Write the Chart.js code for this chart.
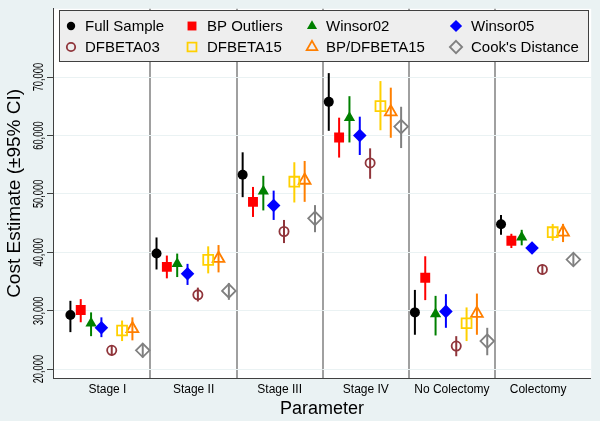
<!DOCTYPE html>
<html>
<head>
<meta charset="utf-8">
<script src="https://cdn.jsdelivr.net/npm/chart.js@4.4.0/dist/chart.umd.min.js"></script>
<style>
html,body{margin:0;padding:0;background:#eaf2f3;}
</style>
</head>
<body>
<canvas id="grafik" width="600" height="421"></canvas>
<script>
var kategoriler=["Stage I","Stage II","Stage III","Stage IV","No Colectomy","Colectomy"];
var seriAdlari=["Full Sample","BP Outliers","Winsor02","Winsor05","DFBETA03","DFBETA15","BP/DFBETA15","Cook's Distance"];
var yTikler=[20000,30000,40000,50000,60000,70000];

// tahmin, alt ve ust sinir (95% CI), kategori sirasiyla
var fullEst=[29270,39780,53270,65760,29710,44800];
var fullLo=[26330,37060,49440,60800,25880,43000];
var fullHi=[31690,42540,57120,70680,33560,46390];

var bpEst=[30120,37510,48640,59660,35640,41980];
var bpLo=[28020,35540,46050,56220,31810,40730];
var bpHi=[31980,39440,51190,63050,39320,43170];

var w02Est=[27850,38020,50450,63050,29430,42590];
var w02Lo=[25640,35760,47170,58810,25760,41190];
var w02Hi=[29710,39780,53100,66730,32540,43850];

var w05Est=[27070,36320,48020,60000,29880,40730];
var w05Lo=[25470,34410,45540,56660,27070,39880];
var w05Hi=[28860,38020,50560,63220,32830,41580];

var df03Est=[23220,32710,43560,55310,23950,37060];
var df03Lo=[22250,31580,41580,52590,22200,36220];
var df03Hi=[24070,33950,45540,57800,25640,37910];

var df15Est=[26610,38700,52090,65030,27850,43440];
var df15Lo=[24800,36390,48530,60900,24800,41980];
var df15Hi=[28310,41020,55420,69320,30560,44860];

var bpdfEst=[26900,38930,52320,64020,29540,43440];
var bpdfLo=[24920,36560,48640,59610,25880,41750];
var bpdfHi=[28860,41240,55640,68190,32930,44860];

var cookEst=[23220,33390,45810,61530,24800,38760];
var cookLo=[21980,31860,43440,57850,22370,37630];
var cookHi=[24350,34750,48080,64920,27070,39880];

var tahminler=[fullEst,bpEst,w02Est,w05Est,df03Est,df15Est,bpdfEst,cookEst];
var altlar=[fullLo,bpLo,w02Lo,w05Lo,df03Lo,df15Lo,bpdfLo,cookLo];
var ustler=[fullHi,bpHi,w02Hi,w05Hi,df03Hi,df15Hi,bpdfHi,cookHi];

var stiller=[
	{c:'#000000',s:'circle',r:5,dolu:true},
	{c:'#ff0000',s:'rect',r:7,dolu:true},
	{c:'#008000',s:'triangle',r:6.5,dolu:true},
	{c:'#0000ff',s:'rectRot',r:6.8,dolu:true},
	{c:'#90353b',s:'circle',r:4.6,dolu:false},
	{c:'#ffd000',s:'rect',r:7,dolu:false},
	{c:'#ff7f00',s:'triangle',r:6.8,dolu:false},
	{c:'#808080',s:'rectRot',r:6.8,dolu:false}
];

var arkaRenk='#eaf2f3';
var eksenRenk='#404040';

Chart.defaults.font.family='"Liberation Sans", Arial, sans-serif';
Chart.defaults.color='#000000';

var veriSetleri=[];
for(var i=0;i<seriAdlari.length;i++)
{
	var noktalar=[];
	for(var k=0;k<kategoriler.length;k++)
	{
		noktalar.push({x:k-0.43+i*0.12,y:tahminler[i][k],lo:altlar[i][k],hi:ustler[i][k]});
	}
	var st=stiller[i];
	veriSetleri.push({
		label:seriAdlari[i],
		data:noktalar,
		pointStyle:st.s,
		pointRadius:st.r,
		pointHoverRadius:st.r,
		borderColor:st.c,
		backgroundColor:st.dolu?st.c:'rgba(0,0,0,0)',
		pointBorderWidth:st.dolu?0:1.8,
		showLine:false
	});
}

function isaretCiz(ctx,st,x,y,r)
{
	ctx.save();
	ctx.fillStyle=st.c;
	ctx.strokeStyle=st.c;
	ctx.lineWidth=1.8;
	ctx.beginPath();
	if(st.s=='circle'){ctx.arc(x,y,r,0,Math.PI*2);}
	else if(st.s=='rect'){var a=r*Math.SQRT1_2;ctx.rect(x-a,y-a,2*a,2*a);}
	else if(st.s=='triangle'){
		ctx.moveTo(x,y-r);
		ctx.lineTo(x+r*Math.sin(Math.PI*2/3),y-r*Math.cos(Math.PI*2/3));
		ctx.lineTo(x+r*Math.sin(Math.PI*4/3),y-r*Math.cos(Math.PI*4/3));
		ctx.closePath();
	}
	else if(st.s=='rectRot'){ctx.moveTo(x,y-r);ctx.lineTo(x+r,y);ctx.lineTo(x,y+r);ctx.lineTo(x-r,y);ctx.closePath();}
	if(st.dolu){ctx.fill();}else{ctx.stroke();}
	ctx.restore();
}

var arkaPlan={
	id:'arkaPlan',
	beforeDraw:function(chart){
		var ctx=chart.ctx,a=chart.chartArea;
		ctx.save();
		ctx.fillStyle=arkaRenk;
		ctx.fillRect(0,0,chart.width,chart.height);
		ctx.fillStyle='#ffffff';
		ctx.fillRect(a.left,a.top,a.right-a.left,a.bottom-a.top);
		ctx.restore();
	}
};

var hataCubugu={
	id:'hataCubugu',
	beforeDatasetsDraw:function(chart){
		var ctx=chart.ctx,xs=chart.scales.x,ys=chart.scales.y;
		chart.data.datasets.forEach(function(ds){
			ctx.save();
			ctx.strokeStyle=ds.borderColor;
			ctx.lineWidth=2;
			ds.data.forEach(function(p){
				var px=xs.getPixelForValue(p.x);
				ctx.beginPath();
				ctx.moveTo(px,ys.getPixelForValue(p.lo));
				ctx.lineTo(px,ys.getPixelForValue(p.hi));
				ctx.stroke();
			});
			ctx.restore();
		});
	}
};

var yEtiket={
	id:'yEtiket',
	afterDraw:function(chart){
		var ctx=chart.ctx,ys=chart.scales.y;
		yTikler.forEach(function(v){
			ctx.save();
			ctx.translate(39,ys.getPixelForValue(v));
			ctx.rotate(-Math.PI/2);
			ctx.scale(0.62,1);
			ctx.font='15px "Liberation Sans", Arial, sans-serif';
			ctx.fillStyle='#000000';
			ctx.textAlign='center';
			ctx.textBaseline='middle';
			ctx.fillText(v.toLocaleString('en-US'),0,0);
			ctx.restore();
		});
	}
};

var lejant={
	id:'lejant',
	afterDraw:function(chart){
		var ctx=chart.ctx;
		var isaretX=[71,192,312,456],yaziX=[85,207,326,471],satirY=[26,47];
		ctx.save();
		ctx.fillStyle='#eeeeee';
		ctx.fillRect(59.5,10.5,529,51);
		ctx.strokeStyle=eksenRenk;
		ctx.lineWidth=1;
		ctx.strokeRect(59.5,10.5,529,51);
		ctx.font='15px "Liberation Sans", Arial, sans-serif';
		ctx.fillStyle='#000000';
		ctx.textBaseline='middle';
		for(var i=0;i<seriAdlari.length;i++)
		{
			var sut=i%4,sat=Math.floor(i/4);
			var st=stiller[i];
			var r=st.s=='circle'?4.2:st.r*0.9;
			isaretCiz(ctx,st,isaretX[sut],satirY[sat],r);
			ctx.fillStyle='#000000';
			ctx.fillText(seriAdlari[i],yaziX[sut],satirY[sat]+1);
		}
		ctx.restore();
	}
};

new Chart(document.getElementById('grafik').getContext('2d'),{
	type:'scatter',
	data:{datasets:veriSetleri},
	plugins:[arkaPlan,hataCubugu,yEtiket,lejant],
	options:{
		responsive:false,
		animation:false,
		events:[],
		layout:{padding:{top:5,right:6,left:0,bottom:0}},
		plugins:{legend:{display:false},tooltip:{enabled:false}},
		scales:{
			x:{
				type:'linear',
				min:-0.632,
				max:5.617,
				afterBuildTicks:function(s){
					var t=[];
					for(var v=0;v<=10;v++){t.push({value:v/2});}
					s.ticks=t;
				},
				afterFit:function(s){s.height=43;},
				grid:{
					drawTicks:false,
					color:function(c){return (c.tick&&c.tick.value%1!==0)?'#a0a0a0':'rgba(0,0,0,0)';},
					lineWidth:function(c){return (c.tick&&c.tick.value%1!==0)?2:0;}
				},
				border:{display:true,color:eksenRenk,width:1},
				ticks:{
					autoSkip:false,
					maxRotation:0,
					minRotation:0,
					padding:4,
					font:{size:12},
					color:'#000000',
					callback:function(v){return v%1===0?kategoriler[v]:'';}
				},
				title:{display:true,text:'Parameter',font:{size:18},color:'#000000',padding:{top:0,bottom:1}}
			},
			y:{
				type:'linear',
				min:18475,
				max:81695,
				afterBuildTicks:function(s){s.ticks=yTikler.map(function(v){return {value:v};});},
				afterFit:function(s){s.width=53;},
				grid:{color:arkaRenk,lineWidth:1,drawTicks:true,tickLength:6,tickColor:eksenRenk},
				border:{display:true,color:eksenRenk,width:1},
				ticks:{display:false},
				title:{display:true,text:'Cost Estimate (\u00b195% CI)',font:{size:19},color:'#000000',padding:{top:3,bottom:0}}
			}
		}
	}
});
</script>
</body>
</html>
